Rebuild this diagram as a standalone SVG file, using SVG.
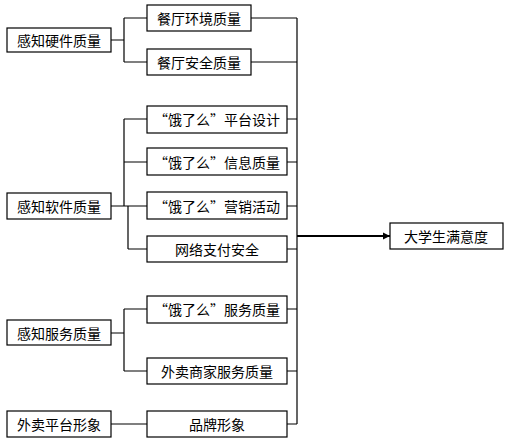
<svg xmlns="http://www.w3.org/2000/svg" width="507" height="447" viewBox="0 0 507 447">
<style>
.b{fill:#fff;stroke:#000;stroke-width:1.2}
.t{font-family:"Noto Sans CJK SC","Liberation Sans",sans-serif;font-size:14px;fill:#000;text-anchor:middle;dominant-baseline:central}
.c{fill:none;stroke:#000;stroke-width:1.2}
</style>
<defs>
<marker id="ah" markerWidth="8" markerHeight="8" refX="7" refY="4" orient="auto" markerUnits="userSpaceOnUse">
<path d="M0,0.5 L7,4 L0,7.5 Z" fill="#000"/>
</marker>
</defs>
<g id="connectors">
<path class="c" d="M111,40 H124 M124,18 V62 M124,18 H147 M124,62 H147"/>
<path class="c" d="M111,206 H128 M124,119 V206 M124,119 H147 M124,162 H147 M128,206 V249 M128,206 H147 M128,249 H147"/>
<path class="c" d="M111,333 H124 M124,309 V371 M124,309 H147 M124,371 H147"/>
<path class="c" d="M111,424 H147"/>
<path class="c" d="M251,18 H297 M251,62 H297 M287,119 H297 M287,162 H297 M287,206 H297 M287,249 H297 M287,309 H297 M287,371 H297 M287,424 H297 M297,18 V424"/>
<path d="M297,236 H390" fill="none" stroke="#000" stroke-width="2" marker-end="url(#ah)"/>
</g>
<g id="n_hw"><rect class="b" x="7" y="28" width="104" height="24"/><text class="t" x="59" y="40">感知硬件质量</text></g>
<g id="n_env"><rect class="b" x="147" y="5" width="104" height="26"/><text class="t" x="199" y="18">餐厅环境质量</text></g>
<g id="n_safe"><rect class="b" x="147" y="49" width="104" height="26"/><text class="t" x="199" y="62">餐厅安全质量</text></g>
<g id="n_sw"><rect class="b" x="7" y="193" width="104" height="26"/><text class="t" x="59" y="206">感知软件质量</text></g>
<g id="n_plat"><rect class="b" x="147" y="106" width="140" height="27"/><text class="t" x="217" y="119">“饿了么”平台设计</text></g>
<g id="n_info"><rect class="b" x="147" y="148" width="140" height="27"/><text class="t" x="217" y="162">“饿了么”信息质量</text></g>
<g id="n_mkt"><rect class="b" x="147" y="192" width="140" height="27"/><text class="t" x="217" y="206">“饿了么”营销活动</text></g>
<g id="n_pay"><rect class="b" x="147" y="236" width="140" height="26"/><text class="t" x="217" y="249">网络支付安全</text></g>
<g id="n_svc"><rect class="b" x="7" y="320" width="104" height="25"/><text class="t" x="59" y="333">感知服务质量</text></g>
<g id="n_esvc"><rect class="b" x="147" y="296" width="140" height="27"/><text class="t" x="217" y="309">“饿了么”服务质量</text></g>
<g id="n_msvc"><rect class="b" x="147" y="358" width="140" height="26"/><text class="t" x="217" y="371">外卖商家服务质量</text></g>
<g id="n_img"><rect class="b" x="7" y="411" width="104" height="26"/><text class="t" x="59" y="424">外卖平台形象</text></g>
<g id="n_brand"><rect class="b" x="147" y="411" width="140" height="26"/><text class="t" x="217" y="424">品牌形象</text></g>
<g id="n_sat"><rect class="b" x="390" y="223" width="113" height="26"/><text class="t" x="446" y="236">大学生满意度</text></g>
</svg>
